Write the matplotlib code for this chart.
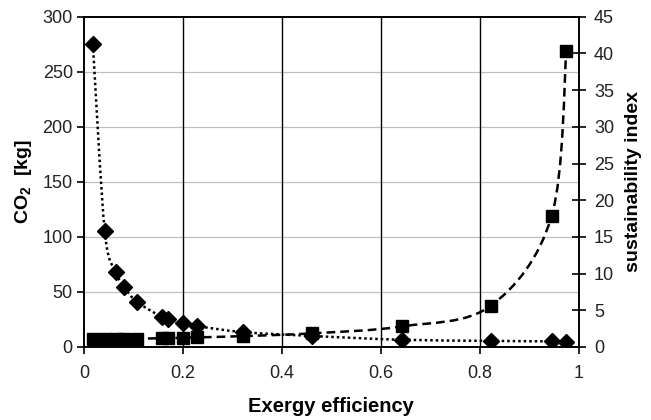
import matplotlib
matplotlib.use("Agg")
import matplotlib.pyplot as plt
from matplotlib.path import Path
from matplotlib.patches import PathPatch
import numpy as np

plt.rcParams['font.family'] = ['Liberation Sans', 'DejaVu Sans']
plt.rcParams['mathtext.fontset'] = 'custom'
plt.rcParams['mathtext.rm'] = 'Liberation Sans'
plt.rcParams['mathtext.bf'] = 'Liberation Sans:bold'

# Data
efficiency = [0.018, 0.042, 0.065, 0.081, 0.107, 0.158, 0.170, 0.200, 0.228,
              0.321, 0.460, 0.642, 0.822, 0.945, 0.975]
co2_kg = [275, 105, 68, 54.5, 41, 27, 25, 22, 19, 13.5, 10, 6.5, 5.5, 5, 4.5]
sust_index = [1.02, 1.04, 1.07, 1.09, 1.12, 1.19, 1.20, 1.25, 1.30,
              1.47, 1.85, 2.79, 5.6, 17.8, 40.3]

x_ticks = [0, 0.2, 0.4, 0.6, 0.8, 1]
x_tick_labels = ['0', '0.2', '0.4', '0.6', '0.8', '1']
left_ticks = [0, 50, 100, 150, 200, 250, 300]
right_ticks = [0, 5, 10, 15, 20, 25, 30, 35, 40, 45]


def smooth_path(xs, ys):
    pts = np.column_stack([xs, ys]).astype(float)
    n = len(pts)
    verts = [pts[0]]
    codes = [Path.MOVETO]
    for i in range(n - 1):
        p0 = pts[i - 1] if i > 0 else pts[i]
        p1 = pts[i]
        p2 = pts[i + 1]
        p3 = pts[i + 2] if i + 2 < n else pts[i + 1]
        c1 = p1 + (p2 - p0) / 6.0
        c2 = p2 - (p3 - p1) / 6.0
        verts += [c1, c2, p2]
        codes += [Path.CURVE4] * 3
    return Path(verts, codes)


fig = plt.figure(figsize=(6.51, 4.20), dpi=100)
ax = fig.add_axes([0.129, 0.174, 0.760, 0.786])
ax2 = ax.twinx()

ax.set_xlim(0, 1)
ax.set_ylim(0, 300)
ax2.set_ylim(0, 45)

# grid
for y in left_ticks[1:-1]:
    ax.axhline(y, color='#c0c0c0', lw=0.9, zorder=0)
for x in x_ticks[1:-1]:
    ax.axvline(x, color='black', lw=1.0, zorder=0)

# CO2 series
ax.add_patch(PathPatch(smooth_path(efficiency, co2_kg), fill=False,
                       ls=(0, (1, 1.2)), lw=1.8, color='black', zorder=2))
ax.plot(efficiency, co2_kg, ls='none', marker='D', ms=8, color='black', zorder=3)

# sustainability series
ax2.add_patch(PathPatch(smooth_path(efficiency, sust_index), fill=False,
                        ls=(0, (3.5, 2)), lw=1.8, color='black', zorder=2))
ax2.plot(efficiency, sust_index, ls='none', marker='s', ms=8.5, color='black', zorder=3)

ax.set_xticks(x_ticks)
ax.set_xticklabels(x_tick_labels)
ax.set_yticks(left_ticks)
ax2.set_yticks(right_ticks)

for a in (ax, ax2):
    for s in a.spines.values():
        s.set_linewidth(1.2)
        s.set_color('black')

ax.tick_params(axis='x', direction='out', length=5, width=1.2, labelsize=13, pad=8, colors='black', labelcolor='#222222')
ax.tick_params(axis='y', direction='out', length=5, width=1.2, labelsize=13, pad=3, labelcolor='#222222')
ax2.tick_params(axis='y', direction='inout', length=10, width=1.2, labelsize=13, pad=6, labelcolor='#222222')

ax.set_xlabel('Exergy efficiency', fontsize=14.5, fontweight='bold', labelpad=11)
ax.set_ylabel(r'CO$_\mathbf{2}$  [kg]', fontsize=14, fontweight='bold', labelpad=6)
ax2.set_ylabel('sustainability index', fontsize=14, fontweight='bold', labelpad=8)

fig.savefig('out.png', dpi=100)
